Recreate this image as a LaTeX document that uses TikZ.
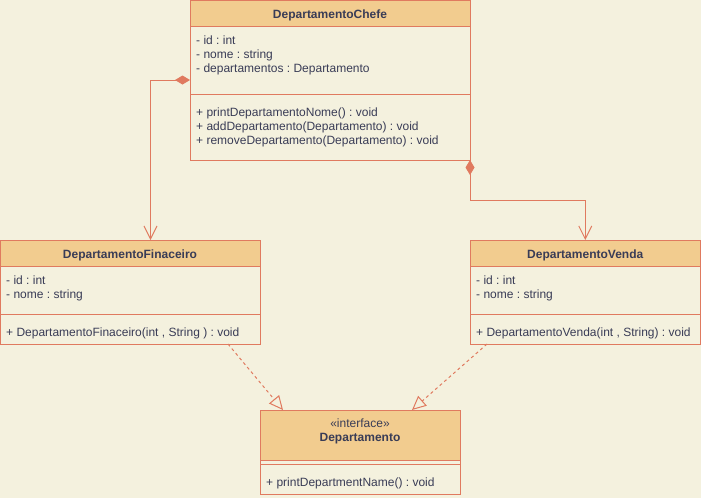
\documentclass[tikz,border=0pt]{standalone}
\usepackage{fontspec}
\setmainfont{Liberation Sans}
\usetikzlibrary{arrows.meta,calc}
\frenchspacing

\definecolor{paper}{HTML}{F4F1DE}
\definecolor{headfill}{HTML}{F2CC8F}
\definecolor{edge}{HTML}{E07A5F}
\definecolor{ink}{HTML}{393C56}

\tikzset{
  section/.style={draw=edge, line width=1pt, fill=paper, rectangle,
    inner sep=0pt, outer sep=0pt, anchor=north west},
  header/.style={section, fill=headfill},
  title/.style={font=\fontsize{12}{14}\selectfont\bfseries, text=ink,
    anchor=base, inner sep=0pt},
  stereo/.style={font=\fontsize{12}{14}\selectfont, text=ink,
    anchor=base, inner sep=0pt},
  member/.style={font=\fontsize{12}{14}\selectfont, text=ink,
    anchor=base west, inner sep=0pt},
  assoc/.style={draw=edge, line width=1pt,
    arrows={Diamond[length=15pt,width=9pt]-Straight Barb[length=13pt,width=13pt]}},
  realize/.style={draw=edge, line width=1pt, dash pattern=on 3pt off 3pt,
    arrows={-Triangle[open,length=14pt,width=13pt]}},
}

\begin{document}
\begin{tikzpicture}[x=1pt, y=-1pt]
  \fill[paper] (0,0) rectangle (701,498);
  \useasboundingbox (0,0) rectangle (701,498);

  % DepartamentoChefe
  \node[header,  minimum width=280pt, minimum height=25.5pt] (chefeHead) at (190,0.5) {};
  \node[section, minimum width=280pt, minimum height=68pt]   (chefeAttr) at (190,26) {};
  \node[section, minimum width=280pt, minimum height=66pt]   (chefeOps)  at (190,94) {};
  \node[title] (chefeTitle) at (330,18) {DepartamentoChefe};
  \node[member] (chefeA1) at (196,44) {- id : int};
  \node[member] (chefeA2) at (196,58) {- nome : string};
  \node[member] (chefeA3) at (196,72) {- departamentos : Departamento};
  \node[member] (chefeM1) at (196,116) {+ printDepartamentoNome() : void};
  \node[member] (chefeM2) at (196,130) {+ addDepartamento(Departamento) : void};
  \node[member] (chefeM3) at (196,144) {+ removeDepartamento(Departamento) : void};

  % DepartamentoFinaceiro
  \node[header,  minimum width=259.5pt, minimum height=26pt] (finHead) at (0.5,240) {};
  \node[section, minimum width=259.5pt, minimum height=48pt] (finAttr) at (0.5,266) {};
  \node[section, minimum width=259.5pt, minimum height=30pt] (finOps)  at (0.5,314) {};
  \node[title] (finTitle) at (130,258) {DepartamentoFinaceiro};
  \node[member] (finA1) at (6,284) {- id : int};
  \node[member] (finA2) at (6,298) {- nome : string};
  \node[member] (finM1) at (6,336) {+ DepartamentoFinaceiro(int , String ) : void};

  % DepartamentoVenda
  \node[header,  minimum width=230.5pt, minimum height=26pt] (vendaHead) at (470,240) {};
  \node[section, minimum width=230.5pt, minimum height=48pt] (vendaAttr) at (470,266) {};
  \node[section, minimum width=230.5pt, minimum height=30pt] (vendaOps)  at (470,314) {};
  \node[title] (vendaTitle) at (585.25,258) {DepartamentoVenda};
  \node[member] (vendaA1) at (476,284) {- id : int};
  \node[member] (vendaA2) at (476,298) {- nome : string};
  \node[member] (vendaM1) at (476,336) {+ DepartamentoVenda(int , String) : void};

  % Departamento (interface)
  \node[header,  minimum width=200pt, minimum height=50pt] (deptHead) at (260,410) {};
  \node[section, minimum width=200pt, minimum height=4pt]  (deptAttr) at (260,460) {};
  \node[section, minimum width=200pt, minimum height=30pt] (deptOps)  at (260,464) {};
  \node[stereo] (deptStereo) at (360,427) {«interface»};
  \node[title]  (deptTitle)  at (360,441.5) {Departamento};
  \node[member] (deptM1) at (266,486) {+ printDepartmentName() : void};

  % associations (composition)
  \draw[assoc] ($(chefeAttr.south west)+(0,-14)$) -| ($(finHead.north west)+(150,0)$);
  \draw[assoc] (chefeOps.south east) -- ($(chefeOps.south east)+(0,40)$) -| (vendaHead.north);

  % realizations
  \draw[realize] ($(finOps.south west)+(227.5,0)$) -- ($(deptHead.north west)+(23,0)$);
  \draw[realize] ($(vendaOps.south west)+(17,0)$) -- ($(deptHead.north west)+(152,0)$);
\end{tikzpicture}
\end{document}
